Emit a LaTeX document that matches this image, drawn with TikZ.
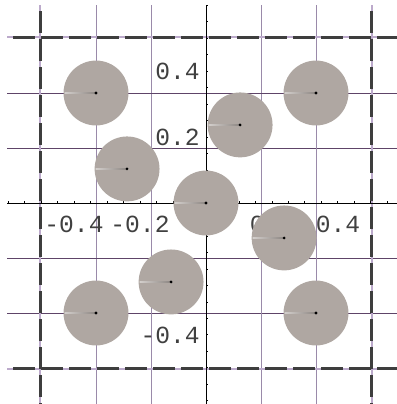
\documentclass[tikz,border=0pt]{standalone}
\usepackage{fontspec}
\setmonofont{Liberation Mono}
\usetikzlibrary{positioning}

\definecolor{diskfill}{HTML}{AFA7A2}
\definecolor{gridvert}{HTML}{9A8AAA}
\definecolor{gridhorz}{HTML}{5E4468}
\definecolor{wallline}{HTML}{3E3E3E}
\definecolor{wallunder}{HTML}{BCAACB}
\definecolor{ticktext}{HTML}{404040}

\tikzset{
  vgrid/.style={gridvert, line width=0.02cm},
  hgrid/.style={gridhorz, line width=0.02cm},
  wallbase/.style={wallunder, line width=0.04cm},
  wall/.style={wallline, line width=0.06cm, dash pattern=on 0.44cm off 0.12cm, dash phase=0.44cm},
  axisline/.style={black, line width=0.02cm},
  ticklabel/.style={font=\ttfamily\fontsize{14}{14}\selectfont, text=ticktext, inner sep=0pt},
  disk/.style={diskfill},
}

\begin{document}
\begin{tikzpicture}[x=5.5cm,y=5.5cm]

\useasboundingbox (-0.7491,-0.7309) rectangle (0.6945,0.7382);
\clip (-0.7491,-0.7309) rectangle (0.6945,0.7382);

% Grid lines
\foreach \g in {-0.4,-0.2,0.2,0.4} {
  \draw[vgrid] (\g,0.72) -- (\g,-0.75);
  \draw[hgrid] (-0.7236,\g) -- (0.75,\g);
}

% --- Dashed cell walls ---
\foreach \w in {-0.6036,0.6036} {
  \draw[wallbase] (\w,0.72) -- (\w,-0.75);
  \draw[wallbase] (-0.7236,\w) -- (0.75,\w);
  \draw[wall] (\w,0.72) -- (\w,-0.75);
  \draw[wall] (-0.7236,\w) -- (0.75,\w);
}

% --- Axes and ticks ---
\draw[axisline] (-0.7236,0) -- (0.75,0);
\draw[axisline] (0,0.72) -- (0,-0.75);
\foreach \t in {-12,...,12} {
  \draw[axisline] ({0.06*\t},0) -- ++(0,0.009);
  \draw[axisline] (0,{0.06*\t}) -- ++(0.009,0);
}

% --- Tick labels ---
\node[ticklabel] (xlabA) at (-0.48,-0.076) {-0.4};
\node[ticklabel] (xlabB) at (-0.24,-0.076) {-0.2};
\node[ticklabel] (xlabC) at (0.24,-0.076) {0.2};
\node[ticklabel] (xlabD) at (0.48,-0.076) {0.4};
\node[ticklabel, anchor=east] (ylabA) at (-0.022,0.48) {0.4};
\node[ticklabel, anchor=east] (ylabB) at (-0.022,0.24) {0.2};
\node[ticklabel, anchor=east] (ylabD) at (-0.022,-0.48) {-0.4};

% --- Disks ---
\foreach \cx/\cy [count=\i] in {-0.4/0.4, 0.4/0.4, 0.124/0.284, -0.287/0.124, 0/0,
                                 0.284/-0.127, -0.127/-0.287, -0.4/-0.4, 0.4/-0.4} {
  \coordinate (disk\i) at (\cx,\cy);
  \fill[disk] (disk\i) circle (0.118);
  \shade[left color=white!45!diskfill, right color=diskfill!80!black]
    ([xshift=-0.63cm,yshift=-0.007cm]disk\i) rectangle ([yshift=0.007cm]disk\i);
  \fill[black] (disk\i) circle (0.0055);
}

\end{tikzpicture}
\end{document}
